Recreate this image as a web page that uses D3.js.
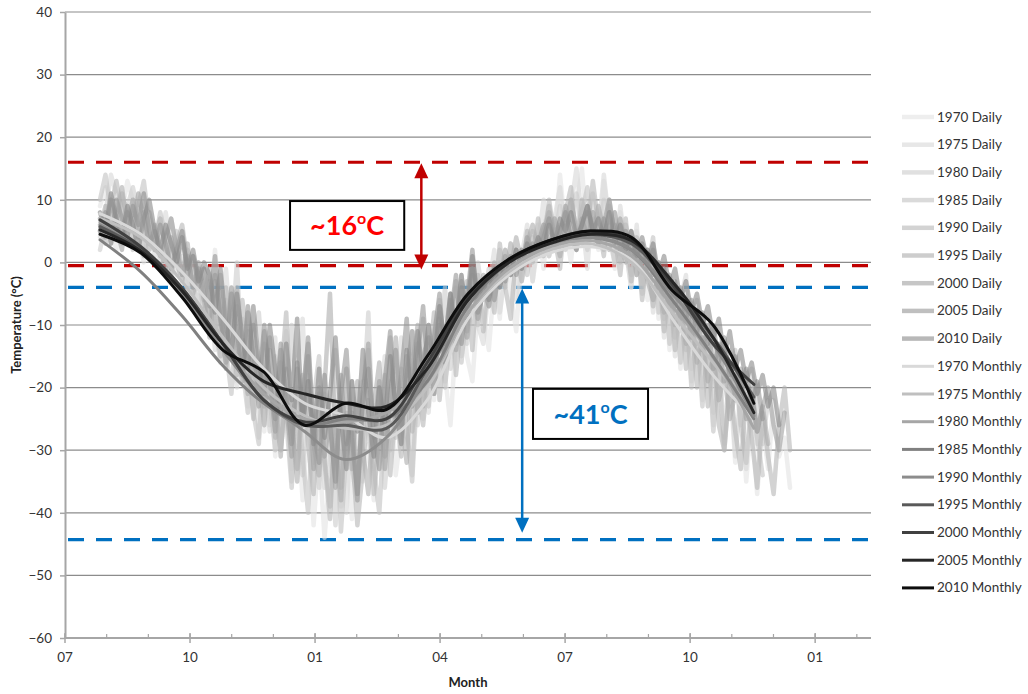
<!DOCTYPE html>
<html><head><meta charset="utf-8">
<script src="https://cdn.jsdelivr.net/npm/d3@7"></script>
<style>
body{margin:0;background:#fff}
svg{display:block}
text{font-family:Lato,"Liberation Sans",sans-serif}
</style>
</head><body>
<svg id="chart" width="1028" height="694"></svg>
<script>
// ---------------- DATA ----------------
const years = ["1970","1975","1980","1985","1990","1995","2000","2005","2010"];

// daily samples: start position (months after 1 Jul) and spacing in days
const dailyStartMonth = 0.84;
const dailyStepDays = 4;

const daily1970 = [9,12,5,2,8,13,10,4,0,6, 3,7,1,-3,2,5,-2,-6,-1,-4,
  -9,2,-7,-15,-5,-19,-13,-24,-10,-18, -27,-14,-31,-20,-11,-33,-24,-38,-26,-42, -30,-44,-33,-22,-39,-28,-41,-25,-35,-29, -38,-24,-31,-19,-34,-27,-22,-30,-16,-25, -13,-22,-9,-18,-26,-12,-5,-15,-19,-7,
  -8,-14,-3,-9,2,-5,-11,1,4,-3, 6,-1,9,3,14,5,0,9,15,4, 10,2,13,6,-1,8,2,-4,5,-2, -6,3,-9,-2,-14,-5,-17,-8,-19,-11, -22,-12,-26,-15,-29,-19,-32,-21,-35,-24, -37,-26,-33,-22,-31,-28,-36];
const daily1975 = [4,8,14,11,6,9,3,7,11,5, 1,4,8,2,-2,1,-5,0,-3,-8,
  -4,-14,-6,-1,-12,-20,-9,-23,-13,-28, -17,-26,-12,-30,-21,-35,-18,-9,-27,-32, -22,-36,-27,-14,-31,-40,-24,-37,-19,-28, -33,-25,-15,-30,-22,-12,-27,-34,-13,-21, -24,-11,-6,-19,-13,-4,-15,-9,-1,-10,
  -13,-4,2,-8,-2,3,-6,1,6,-3, 3,10,1,7,12,4,9,15,7,-1, 11,5,14,6,0,9,2,-4,6,-5, 2,-8,-1,-12,-4,-15,-6,-2,-17,-9, -20,-10,-24,-14,-28,-17,-31,-20,-33,-22,-29];
const daily1980 = [2,6,10,7,3,9,12,8,4,7, 5,0,3,7,2,-1,-4,1,-2,-7,
  -3,-10,-16,-6,-13,0,-17,-24,-12,-8, -19,-27,-15,-30,-22,-10,-26,-34,-18,-29, -36,-21,-30,-42,-27,-17,-33,-38,-23,-8, -31,-20,-36,-26,-14,-29,-22,-11,-26,-18, -10,-21,-14,-4,-17,-9,-2,-13,-6,0,
  -6,-1,-4,2,-2,3,0,-3,1,5, 2,6,1,4,9,3,7,11,5,2, 7,3,10,4,0,6,1,-2,3,-4, -1,-6,-2,-9,-5,-12,-8,-14,-10,-6, -13,-17,-12,-20,-16,-23,-18,-26,-21,-17, -24,-29,-22];
const daily1985 = [10,14,8,5,11,7,2,9,13,6, 3,8,4,0,5,-2,2,-3,-7,-1,
  -5,-12,-2,-14,-21,-7,-17,-11,-24,-29, -13,-22,-30,-16,-25,-36,-20,-31,-40,-22, -15,-31,-39,-24,-43,-30,-19,-36,-28,-14, -33,-40,-25,-12,-28,-17,-26,-35,-19,-9, -23,-14,-8,-20,-11,-3,-16,-7,-1,-10,
  -3,-7,-2,0,-4,3,-1,2,-2,4, 1,5,9,3,6,2,10,5,8,12, 4,7,2,9,5,0,6,2,-2,3, -1,4,-8,-1,-13,-5,-16,-7,-20,-10, -23,-13,-27,-17,-30,-19,-14,-26,-32,-21, -28,-34];
const daily1990 = [6,3,9,13,8,4,10,6,1,8, 4,7,1,-2,3,6,0,-4,-1,-6,
  -1,-9,-15,-4,-11,-18,-6,-14,-25,-16, -23,-12,-28,-19,-8,-26,-33,-18,-29,-37, -21,-32,-41,-25,-36,-17,-30,-42,-33,-22, -37,-28,-18,-34,-23,-31,-15,-27,-20,-26, -17,-8,-22,-12,-5,-18,-9,-3,-14,-2,
  -11,-2,-8,3,-4,-9,2,-3,5,0, 7,1,10,4,-1,8,12,3,10,5, 13,6,1,10,4,-2,7,-3,4,-6, 2,-7,0,-11,-3,-14,-6,-17,-9,-20, -12,-23,-15,-26,-30,-19,-27,-33,-21,-28, -36,-24,-31,-37,-26,-20,-30];
const daily1995 = [5,9,3,7,12,6,10,4,8,2, 6,2,-1,4,0,-3,3,-5,-1,-6,
  -12,-3,-8,-17,-9,-4,-15,-21,-10,-18, -26,-14,-22,-31,-17,-25,-35,-21,-13,-29, -34,-20,-5,-29,-38,-24,-33,-19,-30,-37, -23,-16,-31,-22,-12,-25,-32,-17,-10,-23, -16,-21,-9,-15,-5,-13,-3,-11,-1,-6,
  -2,-5,0,-3,2,-1,4,0,3,6, 2,5,8,4,1,6,10,5,3,8, 4,9,5,2,6,3,0,4,-2,1, -3,-6,-2,-8,-5,-10,-7,-13,-9,-16, -12,-19,-15,-22,-18,-25,-21,-17,-24,-20, -27,-23,-29];
const daily2000 = [7,4,10,6,2,8,5,11,7,3, 5,1,4,7,2,-2,1,-4,0,-5,
  -9,-2,-10,-16,-5,-13,-19,-8,-16,-23, -11,-19,-27,-14,-23,-31,-17,-26,-15,-33, -20,-31,-25,-36,-18,-29,-24,-38,-21,-13, -28,-19,-33,-21,-14,-26,-18,-11,-24,-15, -12,-21,-10,-16,-6,-14,-4,-12,-2,-9,
  -4,-7,-1,-4,1,-2,2,-1,4,1, 3,6,2,7,4,9,5,2,7,4, 8,3,6,10,4,7,2,5,0,3, -1,2,-4,-1,-7,-3,-9,-6,-12,-8, -14,-10,-17,-13,-19,-16,-22,-18,-25,-21, -27,-23,-20,-26,-30,-24];
const daily2005 = [5,8,3,10,7,4,9,6,11,5, 2,6,3,-1,2,5,-2,1,-4,-1,
  -7,1,-9,-14,-4,-11,-18,-7,-15,-20, -10,-19,-25,-13,-21,-29,-16,-24,-12,-27, -32,-18,-26,-35,-21,-14,-28,-37,-22,-17, -27,-33,-19,-11,-25,-18,-9,-23,-15,-7, -19,-12,-5,-16,-9,-2,-13,-6,2,-8,
  -5,-2,-6,-1,-3,1,-2,2,0,3, 1,4,7,3,5,8,4,2,6,9, 5,3,7,4,8,2,5,1,3,0, 2,-2,0,-5,-2,-7,-4,-9,-6,-11, -8,-13,-10,-16,-12,-18,-15,-21,-17,-23, -19,-25];
const daily2010 = [8,5,11,7,4,9,6,2,7,10, 5,2,6,3,0,4,-1,2,-3,0,
  -2,-8,-1,-10,-15,-5,-12,-17,-7,-16, -21,-10,-17,-24,-13,-22,-9,-26,-19,-29, -17,-28,-21,-12,-25,-33,-19,-27,-14,-24, -31,-20,-26,-15,-23,-29,-14,-22,-11,-18, -10,-17,-7,-13,-5,-11,-2,-9,1,-6,
  -3,-6,-1,-4,0,-2,2,-1,3,1, 4,2,6,3,7,5,8,4,6,9, 5,7,4,8,3,6,2,5,1,4, 0,3,-2,1,-4,-1,-6,-3,-8,-5, -10,-7,-12,-9,-15,-11,-17,-14,-19,-16, -21,-18,-23,-20,-26];
const dailySeries = [daily1970,daily1975,daily1980,daily1985,daily1990,daily1995,daily2000,daily2005,daily2010];

// monthly means: positions in months after 1 Jul
const monthT = [0.84,1.82,2.80,3.79,4.77,5.75,6.73,7.71,8.69,9.67,10.65,11.63,12.61,13.59,14.57,15.55,16.53];
const monthly1970 = [7.8,4.5,-1.5,-9,-17,-22.5,-24.5,-28,-22,-9,-2,1.5,2.5,0.5,-9,-18,-25];
const monthly1975 = [7,4,-3,-12,-20,-24.5,-26.5,-26,-20,-8,-1.5,2,3,0,-8,-16,-24];
const monthly1980 = [6.4,2.5,-4,-13,-21,-25,-25.5,-24,-19,-8,-1,2.5,3.5,1,-7,-15,-26.5];
const monthly1985 = [3.6,-1.5,-8.5,-16.5,-22.5,-26,-25,-25,-19,-7,0,3,4,2,-6,-15,-25];
const monthly1990 = [6,2,-5,-14,-22,-27,-31.5,-28,-18,-6,0.5,3,4,2,-5,-13,-24.5];
const monthly1995 = [5.7,2,-4.5,-13,-22,-26,-26,-26.5,-17,-6,0,3.5,4.5,3,-4,-12,-21.5];
const monthly2000 = [6.8,2.5,-4,-13,-22,-25.5,-24.5,-25,-16,-5.5,0.5,3.5,5,3.5,-3.5,-13,-19.5];
const monthly2005 = [5.2,1.8,-4.5,-13,-19,-21,-22.5,-23,-17,-6,0,3,4.5,3.5,-3,-12,-24];
const monthly2010 = [4.5,1.5,-5.5,-14,-17.5,-26,-22.5,-23.5,-15,-5,0.5,3.5,5,4,-4.5,-10,-22.5];
const monthlySeries = [monthly1970,monthly1975,monthly1980,monthly1985,monthly1990,monthly1995,monthly2000,monthly2005,monthly2010];

const yTicks = [-60,-50,-40,-30,-20,-10,0,10,20,30,40];
const xMajorMonths = [0,3,6,9,12,15,18];
const xMajorLabels = ["07","10","01","04","07","10","01"];
const xMinorMonths = [0,1,2,3,4,5,6,7,8,9,10,11,12,13,14,15,16,17,18,19];

const redLevels = [16,-0.5];
const blueLevels = [-4,-44.3];
const annotations = [
  {label:"~16", color:"#ff0000", arrowColor:"#c00000", arrowT:8.55, from:16, to:-0.5, tipPad:[1,4], box:[5.4,8.14,9.8,2.0]},
  {label:"~41", color:"#0070c0", arrowColor:"#0070c0", arrowT:10.97, from:-4, to:-44.3, tipPad:[1,-7], box:[11.23,13.99,-20.2,-28.2]}
];

// ---------------- STYLE ----------------
const dailyColors = ["#e2e2e2","#d7d7d7","#cccccc","#c1c1c1","#b6b6b6","#ababab","#a0a0a0","#949494","#888888"];
const dailyOpacity = 0.6;
const monthlyColors = ["#d9d9d9","#bfbfbf","#a6a6a6","#808080","#8c8c8c","#595959","#404040","#262626","#0d0d0d"];

const svg = d3.select("#chart");
const x = d3.scaleLinear().domain([0,19.34]).range([65,871]);
const y = d3.scaleLinear().domain([-60,40]).range([638,12]);

// grid
svg.append("g").selectAll("line").data(yTicks.filter(d=>d>-60)).join("line")
  .attr("x1",x(0)).attr("x2",x(19.34)).attr("y1",d=>y(d)).attr("y2",d=>y(d))
  .attr("stroke","#8c8c8c").attr("stroke-width",1.2);

// y axis
const yAxis = svg.append("g").attr("transform",`translate(${x(0)},0)`)
  .call(d3.axisLeft(y).tickValues(yTicks).tickSizeInner(5).tickSizeOuter(0).tickPadding(8));
yAxis.select(".domain").attr("stroke","#a6a6a6").attr("stroke-width",2);
yAxis.selectAll(".tick line").attr("stroke","#a6a6a6").attr("stroke-width",1.5);
yAxis.selectAll(".tick text").attr("font-size",13.5).attr("fill","#333").attr("font-family","Lato");

// x axis
const xg = svg.append("g");
xg.append("line").attr("x1",x(0)).attr("x2",x(19.34)).attr("y1",y(-60)).attr("y2",y(-60))
  .attr("stroke","#a6a6a6").attr("stroke-width",2);
xg.selectAll("line.minor").data(xMinorMonths).join("line").attr("class","minor")
  .attr("x1",d=>x(d)).attr("x2",d=>x(d)).attr("y1",y(-60)-4).attr("y2",y(-60))
  .attr("stroke","#a6a6a6").attr("stroke-width",1.2);
xg.selectAll("line.major").data(xMajorMonths).join("line").attr("class","major")
  .attr("x1",d=>x(d)).attr("x2",d=>x(d)).attr("y1",y(-60)-5).attr("y2",y(-60)+5)
  .attr("stroke","#a6a6a6").attr("stroke-width",1.5);
xg.selectAll("text").data(xMajorMonths).join("text")
  .attr("x",d=>x(d)).attr("y",y(-60)+24).attr("text-anchor","middle")
  .attr("font-size",13.5).attr("fill","#333").text((d,i)=>xMajorLabels[i]);

// axis titles
svg.append("text").attr("x",(x(0)+x(19.34))/2).attr("y",687).attr("text-anchor","middle")
  .attr("font-size",13).attr("font-weight","bold").attr("fill","#222").text("Month");
svg.append("text").attr("transform",`translate(21,${(y(40)+y(-60))/2}) rotate(-90)`)
  .attr("text-anchor","middle").attr("font-size",13).attr("font-weight","bold").attr("fill","#222")
  .text("Temperature (°C)");

// reference dashed lines
const refs = redLevels.map(v=>({v,c:"#c00000"})).concat(blueLevels.map(v=>({v,c:"#0070c0"})));
svg.append("g").selectAll("line").data(refs).join("line")
  .attr("x1",68).attr("x2",x(19.34)).attr("y1",d=>y(d.v)).attr("y2",d=>y(d.v))
  .attr("stroke",d=>d.c).attr("stroke-width",3.2).attr("stroke-dasharray","16 12");

// daily lines
const dailyLine = d3.line()
  .x((d,i)=>x(dailyStartMonth + i*dailyStepDays/30.44))
  .y(d=>y(d));
svg.append("g").selectAll("path").data(dailySeries).join("path")
  .attr("d",d=>dailyLine(d)).attr("fill","none")
  .attr("stroke",(d,i)=>dailyColors[i]).attr("stroke-opacity",dailyOpacity)
  .attr("stroke-width",4.5).attr("stroke-linejoin","round").attr("stroke-linecap","round");

// monthly smoothed lines
const monthLine = d3.line().x((d,i)=>x(monthT[i])).y(d=>y(d)).curve(d3.curveCatmullRom.alpha(0.5));
svg.append("g").selectAll("path").data(monthlySeries).join("path")
  .attr("d",d=>monthLine(d)).attr("fill","none")
  .attr("stroke",(d,i)=>monthlyColors[i]).attr("stroke-width",3)
  .attr("stroke-linejoin","round").attr("stroke-linecap","round");

// annotations
annotations.forEach(a=>{
  const g = svg.append("g");
  const ax = x(a.arrowT);
  const top = Math.min(y(a.from),y(a.to)), bot = Math.max(y(a.from),y(a.to));
  const tipTop = top + a.tipPad[0], tipBot = bot + a.tipPad[1];
  g.append("line").attr("x1",ax).attr("x2",ax).attr("y1",tipTop+10).attr("y2",tipBot-10)
    .attr("stroke",a.arrowColor).attr("stroke-width",2.5);
  g.append("path").attr("d",`M${ax},${tipTop} L${ax-7},${tipTop+15} L${ax+7},${tipTop+15} Z`).attr("fill",a.arrowColor);
  g.append("path").attr("d",`M${ax},${tipBot} L${ax-7},${tipBot-15} L${ax+7},${tipBot-15} Z`).attr("fill",a.arrowColor);
  const [t0,t1,v0,v1] = a.box;
  g.append("rect").attr("x",x(t0)).attr("y",y(v0)).attr("width",x(t1)-x(t0)).attr("height",y(v1)-y(v0))
    .attr("fill","#fff").attr("stroke","#000").attr("stroke-width",2);
  const t = g.append("text").attr("x",(x(t0)+x(t1))/2).attr("y",(y(v0)+y(v1))/2+10)
    .attr("text-anchor","middle").attr("font-size",27).attr("font-weight","bold").attr("fill",a.color);
  t.append("tspan").text(a.label);
  t.append("tspan").attr("font-size",16).attr("dy",-11).text("o");
  t.append("tspan").attr("dy",11).text("C");
});

// legend
const legendItems = years.map((yr,i)=>({name:yr+" Daily",color:dailyColors[i],op:dailyOpacity,w:4.5}))
  .concat(years.map((yr,i)=>({name:yr+" Monthly",color:monthlyColors[i],op:1,w:3})));
const lg = svg.append("g").selectAll("g").data(legendItems).join("g")
  .attr("transform",(d,i)=>`translate(0,${117+i*27.7})`);
lg.append("line").attr("x1",902).attr("x2",934).attr("y1",0).attr("y2",0)
  .attr("stroke",d=>d.color).attr("stroke-opacity",d=>d.op).attr("stroke-width",d=>d.w);
lg.append("text").attr("x",937).attr("y",4.5).attr("font-size",13.5).attr("fill","#333").text(d=>d.name);
</script>
</body></html>
